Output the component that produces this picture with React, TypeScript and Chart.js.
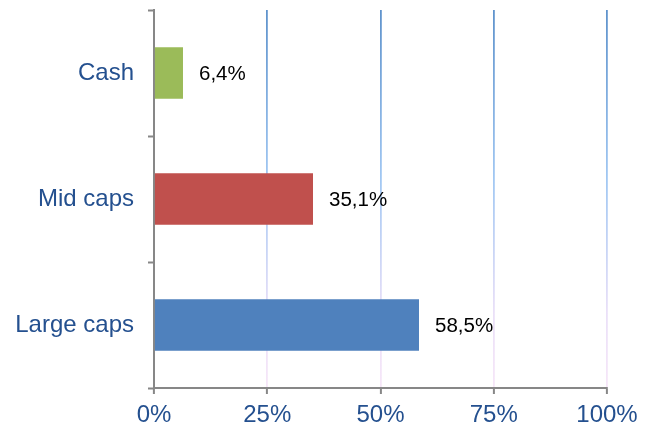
import React, { useEffect, useRef } from "react";
import { Chart, registerables } from "chart.js";

Chart.register(...registerables);

const categories = ["Cash", "Mid caps", "Large caps"];
const values = [6.4, 35.1, 58.5];
const barColors = ["#9BBB59", "#C0504D", "#4F81BD"];
const xTicks = [0, 25, 50, 75, 100];

const FONT = "'Liberation Sans', Arial, sans-serif";
const AXIS_GRAY = "#878787";
const LABEL_BLUE = "#24508F";

const dataLabelPlugin = {
  id: "dataLabels",
  afterDatasetsDraw(chart: any) {
    const ctx = chart.ctx;
    const meta = chart.getDatasetMeta(0);
    ctx.save();
    ctx.font = `20.5px ${FONT}`;
    ctx.fillStyle = "#000000";
    ctx.textAlign = "left";
    ctx.textBaseline = "middle";
    meta.data.forEach((el: any, i: number) => {
      const v = values[i];
      const txt = v.toFixed(1).replace(".", ",") + "%";
      ctx.fillText(txt, el.x + 16, el.y + 1);
    });
    ctx.restore();
  },
};

export default function App() {
  const ref = useRef<HTMLCanvasElement | null>(null);

  useEffect(() => {
    document.body.style.margin = "0";
    const canvas = ref.current;
    if (!canvas) return;
    const chart = new Chart(canvas, {
      type: "bar",
      data: {
        labels: categories,
        datasets: [
          {
            data: values,
            backgroundColor: barColors,
            borderWidth: 0,
            barPercentage: 0.41,
            categoryPercentage: 1,
          },
        ],
      },
      options: {
        indexAxis: "y",
        animation: false,
        responsive: false,
        maintainAspectRatio: false,
        layout: { padding: { top: 10, right: 47, left: 0, bottom: 0 } },
        plugins: {
          legend: { display: false },
          tooltip: { enabled: false },
        },
        scales: {
          x: {
            type: "linear",
            min: 0,
            max: 100,
            afterBuildTicks: (scale: any) => {
              scale.ticks = xTicks.map((v) => ({ value: v }));
            },
            afterFit: (scale: any) => {
              scale.height = 44;
            },
            ticks: {
              callback: (v: any) => v + "%",
              color: LABEL_BLUE,
              font: { family: FONT, size: 24 },
              padding: 7,
              maxRotation: 0,
            },
            grid: {
              display: true,
              drawOnChartArea: true,
              drawTicks: true,
              tickLength: 6,
              tickColor: AXIS_GRAY,
              tickWidth: 2,
              lineWidth: 1.8,
              color: (c: any) => {
                if (c.tick && c.tick.value === 0) return "rgba(0,0,0,0)";
                const ch = c.chart;
                const area = ch.chartArea;
                if (!area) return "#5F93CC";
                const g = ch.ctx.createLinearGradient(0, area.top, 0, area.bottom);
                g.addColorStop(0, "#5F93CC");
                g.addColorStop(0.45, "#A2C8F3");
                g.addColorStop(0.8, "#EAE0F8");
                g.addColorStop(1, "#F6E6F8");
                return g;
              },
            },
            border: { display: true, color: AXIS_GRAY, width: 2 },
          },
          y: {
            type: "category",
            offset: true,
            afterFit: (scale: any) => {
              scale.width = 154;
              scale.paddingTop = 0;
              scale.paddingBottom = 0;
            },
            ticks: {
              color: LABEL_BLUE,
              font: { family: FONT, size: 24 },
              padding: 14,
            },
            grid: {
              display: true,
              offset: true,
              drawOnChartArea: false,
              drawTicks: true,
              tickLength: 6,
              tickColor: AXIS_GRAY,
              tickWidth: 2,
              color: AXIS_GRAY,
            },
            border: { display: true, color: AXIS_GRAY, width: 2 },
          },
        },
      },
      plugins: [dataLabelPlugin],
    } as any);
    return () => chart.destroy();
  }, []);

  return (
    <div style={{ width: 654, height: 432 }}>
      <canvas ref={ref} width={654} height={432} style={{ display: "block" }} />
    </div>
  );
}
